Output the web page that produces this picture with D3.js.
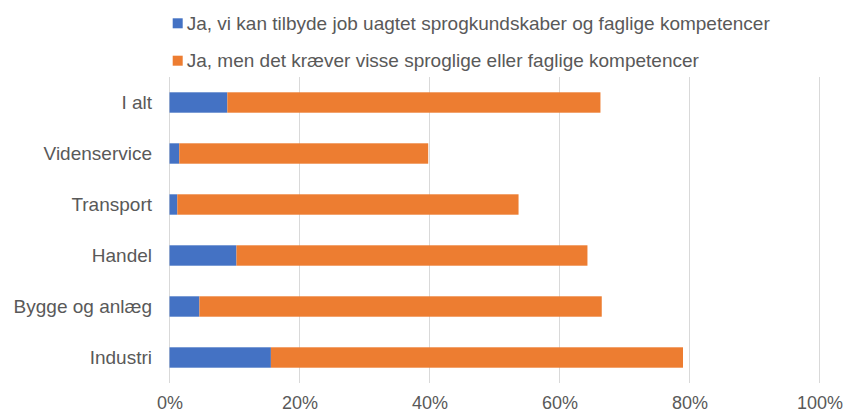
<!DOCTYPE html>
<html>
<head>
<meta charset="utf-8">
<script src="https://cdnjs.cloudflare.com/ajax/libs/d3/7.8.5/d3.min.js"></script>
<style>
  body { margin: 0; background: #fff; }
  text { font-family: "Liberation Sans", Arial, sans-serif; fill: #595959; }
</style>
</head>
<body>
<script>
  // categories top to bottom
  const categories = ["I alt", "Videnservice", "Transport", "Handel", "Bygge og anlæg", "Industri"];
  // percent values
  const utenKrav = [8.9, 1.5, 1.2, 10.3, 4.6, 15.6];
  const medKrav = [57.4, 38.3, 52.5, 54.0, 61.9, 63.4];
  const seriesNames = [
    "Ja, vi kan tilbyde job uagtet sprogkundskaber og faglige kompetencer",
    "Ja, men det kræver visse sproglige eller faglige kompetencer"
  ];
  const ticks = [0, 20, 40, 60, 80, 100];
  const colors = ["#4472C4", "#ED7D31"];

  const w = 843, h = 413;
  const plotL = 169.5, plotR = 819.5, plotT = 77, plotB = 383;

  const rows = categories.map((c, i) => ({ cat: c, a: utenKrav[i], b: medKrav[i] }));
  const stack = d3.stack().keys(["a", "b"])(rows);

  const x = d3.scaleLinear().domain([0, 100]).range([plotL, plotR]);
  const y = d3.scaleBand().domain(categories).range([plotT, plotB]).paddingInner(0.6).paddingOuter(0.3);

  const svg = d3.select("body").append("svg")
    .attr("width", w)
    .attr("height", h);

  // gridlines
  svg.append("g")
    .selectAll("line")
    .data(ticks)
    .enter()
    .append("line")
    .attr("x1", d => x(d))
    .attr("x2", d => x(d))
    .attr("y1", plotT)
    .attr("y2", plotB)
    .attr("stroke", "#d9d9d9")
    .attr("stroke-width", 1);

  // bars
  svg.append("g")
    .selectAll("g")
    .data(stack)
    .enter()
    .append("g")
    .attr("fill", (d, i) => colors[i])
    .selectAll("rect")
    .data(d => d)
    .enter()
    .append("rect")
    .attr("x", d => x(d[0]))
    .attr("y", d => y(d.data.cat))
    .attr("width", d => x(d[1]) - x(d[0]))
    .attr("height", y.bandwidth());

  // x axis labels
  const xAxis = d3.axisBottom(x).tickValues(ticks).tickFormat(d => d + "%").tickSize(0).tickPadding(0);
  const gx = svg.append("g")
    .attr("transform", "translate(0," + plotB + ")")
    .call(xAxis);
  gx.select(".domain").remove();
  gx.selectAll("text")
    .attr("y", 19.5)
    .attr("dy", "0.35em")
    .style("font-size", "18px")
    .attr("fill", "#595959");

  // y axis labels
  const yAxis = d3.axisLeft(y).tickSize(0).tickPadding(17.5);
  const gy = svg.append("g")
    .attr("transform", "translate(" + plotL + ",0)")
    .call(yAxis);
  gy.select(".domain").remove();
  gy.selectAll("text")
    .style("font-size", "19px")
    .attr("fill", "#595959");

  // legend
  const legend = svg.append("g")
    .selectAll("g")
    .data(seriesNames)
    .enter()
    .append("g")
    .attr("transform", (d, i) => "translate(172.7," + (23.3 + i * 37.4) + ")");
  legend.append("rect")
    .attr("x", 0)
    .attr("y", -5)
    .attr("width", 10)
    .attr("height", 10)
    .attr("fill", (d, i) => colors[i]);
  legend.append("text")
    .attr("x", 14)
    .attr("dy", "0.35em")
    .style("font-size", "19px")
    .text(d => d);
</script>
</body>
</html>
